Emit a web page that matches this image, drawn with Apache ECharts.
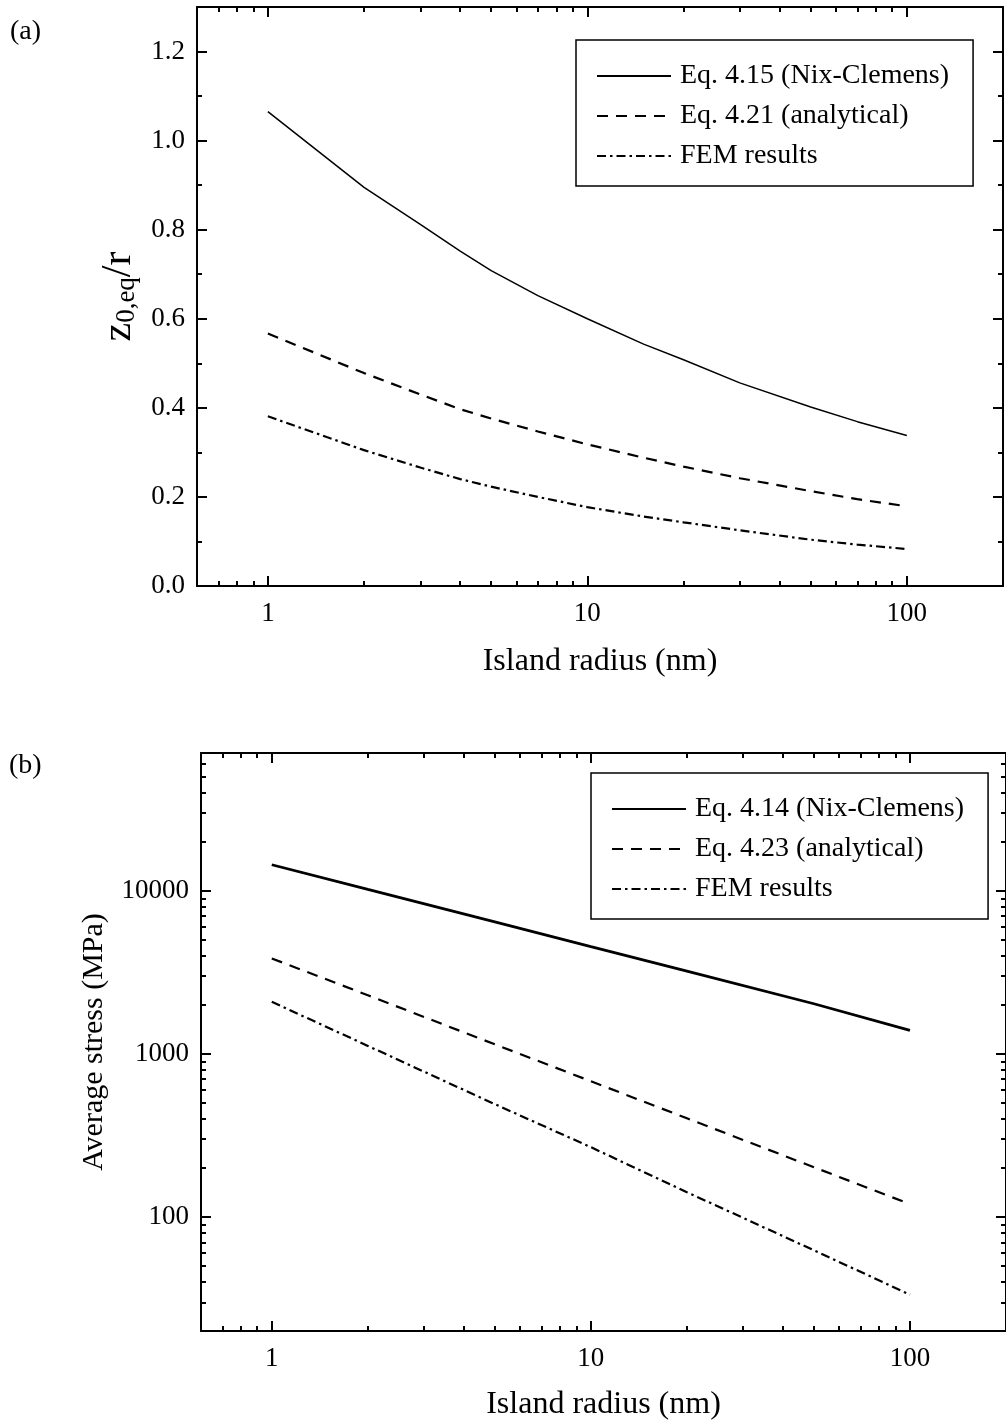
<!DOCTYPE html>
<html>
<head>
<meta charset="utf-8">
<script src="https://cdn.jsdelivr.net/npm/echarts@6/dist/echarts.min.js"></script>
<style>
  html, body { margin: 0; padding: 0; background: #fff; }
  #chart { width: 1006px; height: 1424px; }
</style>
</head>
<body>
<div id="chart"></div>
<script>
// (a) equilibrium height ratio z0,eq / r versus island radius
const radiusA = [1, 2, 3, 4, 5, 7, 10, 15, 20, 30, 50, 70, 100];
const nixClemensA = [1.065, 0.895, 0.812, 0.752, 0.708, 0.652, 0.600, 0.543, 0.508, 0.456, 0.402, 0.369, 0.338];
const analyticalA = [0.567, 0.478, 0.430, 0.397, 0.376, 0.347, 0.318, 0.288, 0.268, 0.242, 0.213, 0.195, 0.179];
const femA = [0.381, 0.305, 0.266, 0.240, 0.223, 0.200, 0.177, 0.156, 0.143, 0.125, 0.104, 0.093, 0.083];

// (b) average stress (MPa) versus island radius
const radiusB = [1, 2, 5, 10, 20, 50, 100];
const nixClemensB = [14450, 10200, 6450, 4550, 3220, 2030, 1395];
const analyticalB = [3850, 2290, 1145, 680, 403, 202, 120];
const femB = [2085, 1120, 492, 268, 142, 62.5, 33.4];

// legend entries
const namesA = ['Eq. 4.15 (Nix-Clemens)', 'Eq. 4.21 (analytical)', 'FEM results'];
const namesB = ['Eq. 4.14 (Nix-Clemens)', 'Eq. 4.23 (analytical)', 'FEM results'];

// tick positions
const xMajor = [1, 10, 100];
const xMinor = [0.7, 0.8, 0.9, 2, 3, 4, 5, 6, 7, 8, 9, 20, 30, 40, 50, 60, 70, 80, 90];
const yMajorA = [0, 0.2, 0.4, 0.6, 0.8, 1.0, 1.2];
const yMinorA = [0.1, 0.3, 0.5, 0.7, 0.9, 1.1];
const yMajorB = [100, 1000, 10000];
const yMinorB = [30, 40, 50, 60, 70, 80, 90,
  200, 300, 400, 500, 600, 700, 800, 900,
  2000, 3000, 4000, 5000, 6000, 7000, 8000, 9000,
  20000, 30000, 40000, 50000, 60000];

const FONT = 'Liberation Serif';
const BLACK = '#000';
const frame = { color: BLACK, width: 2 };

function tickSet(values, len) {
  return { show: true, inside: true, length: len, lineStyle: frame, customValues: values };
}

// four stacked axes per side: framed major ticks + minor ticks, mirrored on the opposite side
function xAxesFor(gridIndex, nameGap) {
  const base = { type: 'log', logBase: 10, gridIndex, min: 0.6, max: 200,
    splitLine: { show: false }, minorTick: { show: false }, minorSplitLine: { show: false } };
  return [
    Object.assign({}, base, {
      position: 'bottom',
      name: 'Island radius (nm)', nameLocation: 'middle', nameGap,
      nameTextStyle: { fontFamily: FONT, fontSize: 32, color: BLACK },
      axisLine: { show: true, onZero: false, lineStyle: frame },
      axisTick: tickSet(xMajor, 10),
      axisLabel: { show: true, customValues: xMajor, margin: 14, fontFamily: FONT, fontSize: 27, color: BLACK,
        formatter: v => String(Math.round(v)) }
    }),
    Object.assign({}, base, { position: 'bottom', axisLine: { show: false, onZero: false },
      axisTick: tickSet(xMinor, 5), axisLabel: { show: false } }),
    Object.assign({}, base, { position: 'top', axisLine: { show: true, onZero: false, lineStyle: frame },
      axisTick: tickSet(xMajor, 10), axisLabel: { show: false } }),
    Object.assign({}, base, { position: 'top', axisLine: { show: false, onZero: false },
      axisTick: tickSet(xMinor, 5), axisLabel: { show: false } })
  ];
}

function yAxesFor(gridIndex, scale, major, minor, labelFmt, nameCfg) {
  const base = Object.assign({ gridIndex, splitLine: { show: false },
    minorTick: { show: false }, minorSplitLine: { show: false } }, scale);
  return [
    Object.assign({}, base, nameCfg, {
      position: 'left',
      axisLine: { show: true, onZero: false, lineStyle: frame },
      axisTick: tickSet(major, 10),
      axisLabel: { show: true, customValues: major, margin: 12, fontFamily: FONT, fontSize: 27, color: BLACK,
        formatter: labelFmt }
    }),
    Object.assign({}, base, { position: 'left', axisLine: { show: false, onZero: false },
      axisTick: tickSet(minor, 5), axisLabel: { show: false } }),
    Object.assign({}, base, { position: 'right', axisLine: { show: true, onZero: false, lineStyle: frame },
      axisTick: tickSet(major, 10), axisLabel: { show: false } }),
    Object.assign({}, base, { position: 'right', axisLine: { show: false, onZero: false },
      axisTick: tickSet(minor, 5), axisLabel: { show: false } })
  ];
}

const pairs = (xs, ys) => xs.map((x, i) => [x, ys[i]]);

function lineSeries(name, xIdx, yIdx, data, width, type) {
  return {
    type: 'line', name, xAxisIndex: xIdx, yAxisIndex: yIdx, data,
    symbol: 'none', showSymbol: false, smooth: false, silent: true, animation: false,
    itemStyle: { color: BLACK, opacity: 0 },
    lineStyle: { color: BLACK, width, type }
  };
}

const DASH = [11, 8];
const DASHDOT = [9, 4, 2.5, 4];

function legendFor(names, left, top) {
  return {
    data: names, orient: 'vertical', left, top,
    itemWidth: 74, itemHeight: 14, itemGap: 12,
    padding: [22, 24, 16, 20],
    borderColor: BLACK, borderWidth: 1.5, borderRadius: 0, backgroundColor: '#fff',
    selectedMode: false,
    itemStyle: { opacity: 0 },
    textStyle: { fontFamily: FONT, fontSize: 28, color: BLACK, lineHeight: 28, padding: [0, 0, 0, 4] }
  };
}

const chart = echarts.init(document.getElementById('chart'), null, { renderer: 'canvas' });

chart.setOption({
  backgroundColor: '#fff',
  animation: false,
  grid: [
    { left: 197, top: 7, width: 806, height: 579 },
    { left: 201, top: 753, width: 807, height: 578 }
  ],
  xAxis: [].concat(xAxesFor(0, 60), xAxesFor(1, 58)),
  yAxis: [].concat(
    yAxesFor(0, { type: 'value', min: 0, max: 1.3 }, yMajorA, yMinorA,
      v => v.toFixed(1),
      { name: '{m|z}{s|0,eq}{m|/r}', nameLocation: 'middle', nameGap: 52, nameRotate: 90,
        nameTextStyle: { fontFamily: FONT, color: BLACK,
          rich: { m: { fontFamily: FONT, fontSize: 42, color: BLACK },
                  s: { fontFamily: FONT, fontSize: 27, color: BLACK, verticalAlign: 'bottom', padding: [16, 0, 0, 0] } } } }),
    yAxesFor(1, { type: 'log', logBase: 10, min: 20, max: 70000 }, yMajorB, yMinorB,
      v => String(Math.round(v)),
      { name: 'Average stress (MPa)', nameLocation: 'middle', nameGap: 92, nameRotate: 90,
        nameTextStyle: { fontFamily: FONT, fontSize: 30, color: BLACK } })
  ),
  legend: [legendFor(namesA, 576, 40), legendFor(namesB, 591, 773)],
  graphic: [
    { type: 'text', left: 10, top: 18, style: { text: '(a)', fontFamily: FONT, fontSize: 28, fill: BLACK } },
    { type: 'text', left: 9, top: 752, style: { text: '(b)', fontFamily: FONT, fontSize: 28, fill: BLACK } }
  ],
  series: [
    lineSeries(namesA[0], 0, 0, pairs(radiusA, nixClemensA), 1.5, 'solid'),
    lineSeries(namesA[1], 0, 0, pairs(radiusA, analyticalA), 2.2, DASH),
    lineSeries(namesA[2], 0, 0, pairs(radiusA, femA), 2.2, DASHDOT),
    lineSeries(namesB[0], 4, 4, pairs(radiusB, nixClemensB), 2.8, 'solid'),
    lineSeries(namesB[1], 4, 4, pairs(radiusB, analyticalB), 2.2, DASH),
    lineSeries(namesB[2], 4, 4, pairs(radiusB, femB), 2.2, DASHDOT)
  ]
});
</script>
</body>
</html>
